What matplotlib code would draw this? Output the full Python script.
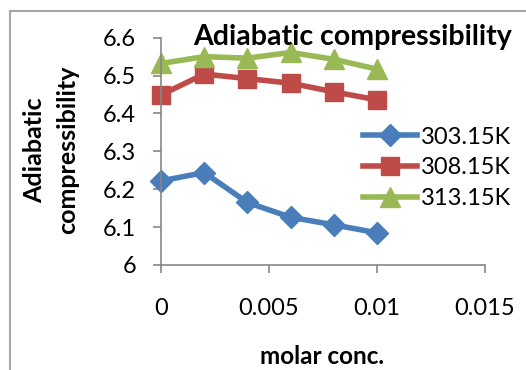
import matplotlib
matplotlib.use("Agg")
import matplotlib.pyplot as plt
from matplotlib.lines import Line2D

conc = [0, 0.002, 0.004, 0.006, 0.008, 0.010]
k303 = [6.222, 6.244, 6.165, 6.126, 6.106, 6.085]
k308 = [6.449, 6.504, 6.492, 6.480, 6.457, 6.436]
k313 = [6.532, 6.550, 6.546, 6.561, 6.543, 6.517]
labels = ["303.15K", "308.15K", "313.15K"]
xticks = [0, 0.005, 0.01, 0.015]
xticklabels = ["0", "0.005", "0.01", "0.015"]
yticks = [6, 6.1, 6.2, 6.3, 6.4, 6.5, 6.6]
yticklabels = ["6", "6.1", "6.2", "6.3", "6.4", "6.5", "6.6"]

plt.rcParams['font.family'] = ['Lato', 'DejaVu Sans']

W, H = 526, 370
fig = plt.figure(figsize=(W / 100, H / 100), dpi=100)
ax = fig.add_axes([161 / W, 1 - 265 / H, (485 - 161) / W, (265 - 37.7) / H])

# outer chart frame (partially cropped)
fig.add_artist(Line2D([10 / W, 10 / W], [0, 1 - 11 / H], transform=fig.transFigure,
                      color="#a6a6a6", lw=1.5))
fig.add_artist(Line2D([10 / W, 1], [1 - 11 / H, 1 - 11 / H], transform=fig.transFigure,
                      color="#a6a6a6", lw=1.5))

colors = ["#4A7EBB", "#BE4B48", "#98B954"]
markers = ["D", "s", "^"]
msizes = [11, 13, 14]
for ys, c, m, ms, lab in zip([k303, k308, k313], colors, markers, msizes, labels):
    ax.plot(conc, ys, color=c, lw=4, marker=m, ms=ms, mec=c, mfc=c, label=lab,
            clip_on=False, solid_joinstyle="round")

ax.set_xlim(0, 0.015)
ax.set_ylim(6, 6.6)
ax.set_xticks(xticks)
ax.set_xticklabels(xticklabels)
ax.set_yticks(yticks)
ax.set_yticklabels(yticklabels)
for s in ["top", "right"]:
    ax.spines[s].set_visible(False)
for s in ["left", "bottom"]:
    ax.spines[s].set_color("#868686")
    ax.spines[s].set_linewidth(1.2)
ax.tick_params(axis="both", colors="#868686", labelcolor="black", labelsize=17,
               length=6, width=1.2)
ax.tick_params(axis="y", pad=12)
ax.tick_params(axis="x", pad=18)

fig.text(353 / W, 1 - 37 / H, "Adiabatic compressibility", ha="center", va="center",
         fontsize=20.5, fontweight="bold")
fig.text(35 / W, 1 - 150 / H, "Adiabatic", rotation=90, ha="center", va="center",
         fontsize=18, fontweight="bold")
fig.text(68 / W, 1 - 150 / H, "compressibility", rotation=90, ha="center", va="center",
         fontsize=18, fontweight="bold")
fig.text(322 / W, 1 - 357 / H, "molar conc.", ha="center", va="center",
         fontsize=17.5, fontweight="bold")

leg = ax.legend(loc="center left", bbox_to_anchor=(363 / W, 1 - 168 / H),
                bbox_transform=fig.transFigure, frameon=False, fontsize=17,
                handlelength=2.3, handletextpad=0.15, labelspacing=0.42,
                borderpad=0, borderaxespad=0)

fig.savefig("out.png", dpi=100)
